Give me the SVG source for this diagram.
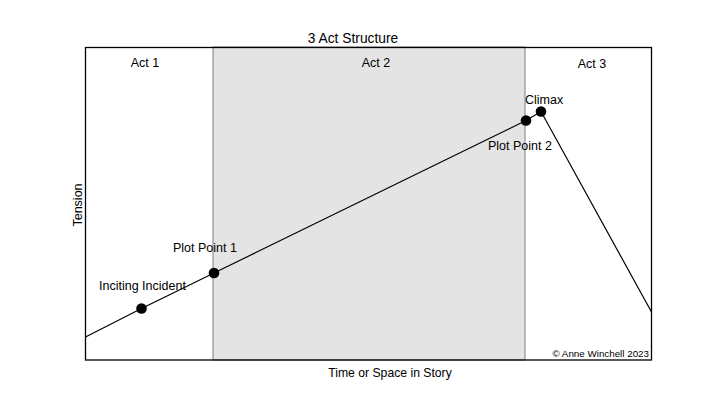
<svg xmlns="http://www.w3.org/2000/svg" width="720" height="405" viewBox="0 0 720 405">
<style>
text{font-family:"Liberation Sans",Arial,sans-serif;font-size:12.5px;fill:#000}
.c{text-anchor:middle}
.dot{fill:#000}
</style>
<rect width="720" height="405" fill="#fff"/>
<g id="act2-band"><rect x="213" y="47" width="312" height="313" fill="#e4e4e4" stroke="#7f7f7f" stroke-width="1"/></g>
<g id="frame"><rect x="85.5" y="47.5" width="566" height="312.5" fill="none" stroke="#000" stroke-width="1.3"/></g>
<text class="c" x="353" y="43" style="font-size:13.8px">3 Act Structure</text>
<text class="c" x="145" y="67">Act 1</text>
<text class="c" x="376" y="67">Act 2</text>
<text class="c" x="592" y="68">Act 3</text>
<text class="c" x="390" y="377" style="font-size:12.2px">Time or Space in Story</text>
<text class="c" transform="translate(82,205) rotate(-90)">Tension</text>
<text x="649" y="357" style="font-size:9.8px;text-anchor:end">© Anne Winchell 2023</text>
<g id="connectors" fill="none" stroke="#000" stroke-width="1.2">
<polyline points="85.5,337 141.5,308.5 214,273 526,120.5 541,111.5 651.5,312"/>
</g>
<g id="inciting-incident"><circle class="dot" cx="141.5" cy="308.5" r="5.3"/><text x="99" y="290">Inciting Incident</text></g>
<g id="plot-point-1"><circle class="dot" cx="214" cy="273" r="5.3"/><text x="173" y="252">Plot Point 1</text></g>
<g id="plot-point-2"><circle class="dot" cx="526" cy="120.5" r="5.3"/><text x="488" y="150">Plot Point 2</text></g>
<g id="climax"><circle class="dot" cx="541" cy="111.5" r="5.3"/><text x="525" y="104">Climax</text></g>
</svg>
